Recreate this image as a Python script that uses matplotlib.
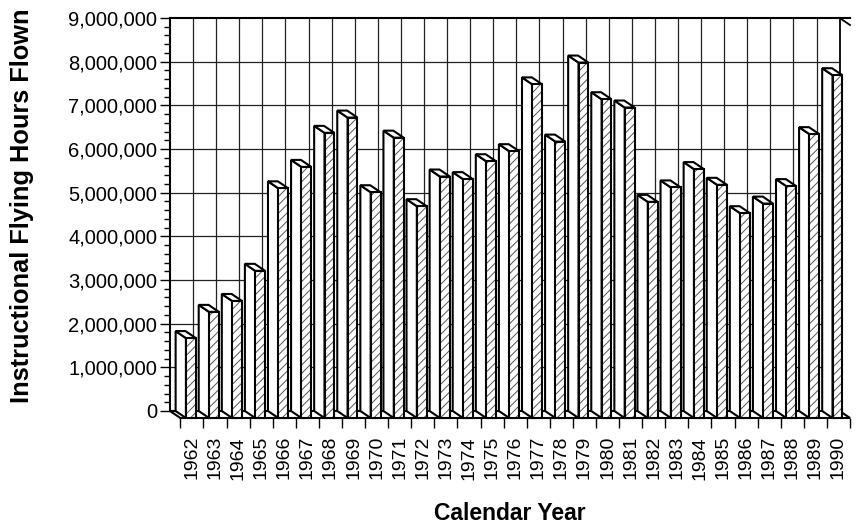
import numpy as np
import matplotlib.pyplot as plt
from matplotlib.patches import Polygon
from matplotlib.ticker import MultipleLocator, FuncFormatter

plt.switch_backend('Agg')
plt.rcParams['font.family'] = ['Liberation Sans', 'DejaVu Sans']
plt.rcParams['hatch.linewidth'] = 0.7

# Data
years = [str(y) for y in range(1962, 1991)]
hours = [1830000, 2430000, 2680000, 3370000, 5260000, 5750000, 6530000, 6880000,
         5170000, 6420000, 4850000, 5530000, 5470000, 5880000, 6110000, 7640000,
         6330000, 8140000, 7300000, 7110000, 4950000, 5280000, 5700000, 5340000,
         4690000, 4910000, 5310000, 6500000, 7850000]

n = len(years)
ymax = 9000000

# pixel layout of the back wall
W, H = 857, 524
left, right, top, bottom = 170, 850, 18, 411
px_per_cat = (right - left) / n
px_per_val = (bottom - top) / ymax

# oblique depth (pixels -> data units)
depth_x = 10.5 / px_per_cat
depth_y = 7.0 / px_per_val
bar_off = 5.7 / px_per_cat
bar_w = 10.0 / px_per_cat

fig = plt.figure(figsize=(W / 100, H / 100), dpi=100)
ax = fig.add_axes([left / W, (H - bottom) / H, (right - left) / W, (bottom - top) / H])
ax.set_xlim(0, n)
ax.set_ylim(0, ymax)

# back wall grid
ax.hlines(np.arange(1000000, ymax, 1000000), 0, n, color='#222222', lw=0.9, zorder=1)
ax.vlines(np.arange(1, n), 0, ymax, color='#222222', lw=0.9, zorder=1)

# floor and right wall edges
floor = Polygon([(0, 0), (n, 0), (n + depth_x, -depth_y), (depth_x, -depth_y)],
                closed=True, facecolor='white', edgecolor='black', lw=1.5,
                clip_on=False, zorder=2)
ax.add_patch(floor)
ax.plot([n, n + depth_x], [ymax, ymax - depth_y], color='black', lw=1.3, clip_on=False, zorder=2)
ax.plot([n, n], [0, ymax], color='black', lw=1.3, clip_on=False, zorder=2)

# 3-D bars
for i, v in enumerate(hours):
    x0 = i + bar_off
    side = [(x0, 0), (x0, v), (x0 + depth_x, v - depth_y), (x0 + depth_x, -depth_y)]
    top_face = [(x0, v), (x0 + bar_w, v), (x0 + bar_w + depth_x, v - depth_y),
                (x0 + depth_x, v - depth_y)]
    front = [(x0 + depth_x, -depth_y), (x0 + depth_x, v - depth_y),
             (x0 + depth_x + bar_w, v - depth_y), (x0 + depth_x + bar_w, -depth_y)]
    ax.add_patch(Polygon(side, closed=True, facecolor='white', edgecolor='black',
                         lw=1.5, joinstyle='miter', clip_on=False, zorder=3))
    ax.add_patch(Polygon(top_face, closed=True, facecolor='white', edgecolor='black',
                         lw=1.5, joinstyle='miter', clip_on=False, zorder=3))
    ax.add_patch(Polygon(front, closed=True, facecolor='white', edgecolor='#555555',
                         hatch='////', lw=0, clip_on=False, zorder=3))
    ax.add_patch(Polygon(front, closed=True, fill=False, edgecolor='black',
                         lw=1.5, joinstyle='miter', clip_on=False, zorder=3))

# spines
for s in ['top', 'right', 'left']:
    ax.spines[s].set_linewidth(1.5)
ax.spines['right'].set_visible(False)
ax.spines['bottom'].set_position(('data', -depth_y))
ax.spines['bottom'].set_visible(False)

# y axis
ax.yaxis.set_major_locator(MultipleLocator(1000000))
ax.yaxis.set_minor_locator(MultipleLocator(200000))
ax.yaxis.set_major_formatter(FuncFormatter(lambda v, p: f"{int(v):,}"))
ax.tick_params(axis='y', which='major', length=7.2, width=1.0, pad=2, labelsize=14.5)
ax.tick_params(axis='y', which='minor', length=4.0, width=1.0)

# x axis: labels at front category centres, ticks at front boundaries
ax.set_xticks(np.arange(n) + 0.5 + depth_x)
ax.set_xticklabels(years, rotation=90)
ax.set_xticks(np.arange(n + 1) + depth_x, minor=True)
ax.tick_params(axis='x', which='major', length=0, pad=13, labelsize=14)
ax.tick_params(axis='x', which='minor', length=7.2, width=1.0)

fig.text(510 / W, 1 - 514 / H, "Calendar Year", ha='center', va='center',
         fontsize=16.5, fontweight='bold')
fig.text(22 / W, 1 - 206 / H, "Instructional Flying Hours Flown", ha='center',
         va='center', rotation=90, fontsize=18.3, fontweight='bold')

fig.savefig("out.png", dpi=100, facecolor='white')
